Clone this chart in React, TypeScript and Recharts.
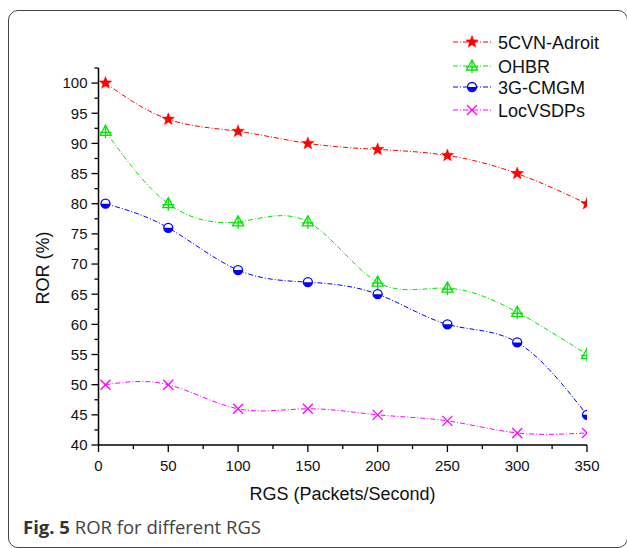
import React from "react";
import { Legend, Line, LineChart, XAxis, YAxis } from "recharts";

// RGS values (packets/second) where each scheme was measured
const rgs = [5, 50, 100, 150, 200, 250, 300, 350];

// ROR (%) per scheme
const adroit = [100, 94, 92, 90, 89, 88, 85, 80];
const ohbr = [92, 80, 77, 77, 67, 66, 62, 55];
const cmgm = [80, 76, 69, 67, 65, 60, 57, 45];
const locvsdps = [50, 50, 46, 46, 45, 44, 42, 42];

const xMajor = [0, 50, 100, 150, 200, 250, 300, 350];
const xMinor = [25, 75, 125, 175, 225, 275, 325];
const yMajor = [40, 45, 50, 55, 60, 65, 70, 75, 80, 85, 90, 95, 100];
const yMinor = [42.5, 47.5, 52.5, 57.5, 62.5, 67.5, 72.5, 77.5, 82.5, 87.5, 92.5, 97.5, 102.5];

const data = rgs.map((x, i) => ({
  x,
  adroit: adroit[i],
  ohbr: ohbr[i],
  cmgm: cmgm[i],
  locvsdps: locvsdps[i],
}));

const FONT = '"Liberation Sans", Arial, sans-serif';
const DASH = "5 2 1 2";

const RED = "#ff0000";
const GREEN = "#00e600";
const BLUE = "#0000ff";
const MAGENTA = "#ff00ff";

// plot box (matches chart margins / axis sizes below)
const PLOT = { x: 98.5, y: 68, w: 488.5, h: 377 };

function starPath(cx: number, cy: number, r: number) {
  const pts: string[] = [];
  for (let k = 0; k < 10; k++) {
    const rad = k % 2 === 0 ? r : r * 0.42;
    const a = -Math.PI / 2 + (k * Math.PI) / 5;
    pts.push(`${cx + rad * Math.cos(a)},${cy + rad * Math.sin(a)}`);
  }
  return `M${pts.join("L")}Z`;
}

const StarMark = ({ cx, cy }: any) => (
  <path d={starPath(cx, cy, 6.5)} fill={RED} stroke={RED} strokeWidth={0.5} />
);

const TriMark = ({ cx, cy }: any) => (
  <g fill="none" stroke={GREEN} strokeWidth={1.3}>
    <path d={`M${cx},${cy - 6}L${cx - 5.5},${cy + 4}L${cx + 5.5},${cy + 4}Z`} />
    <line x1={cx} x2={cx} y1={cy - 6} y2={cy + 7} />
    <line x1={cx - 6} x2={cx + 6} y1={cy + 1} y2={cy + 1} />
  </g>
);

const HalfCircle = ({ cx, cy }: any) => (
  <g>
    <circle cx={cx} cy={cy} r={4.5} fill="#fff" stroke={BLUE} strokeWidth={1.3} />
    <path d={`M${cx - 4.5},${cy}A4.5,4.5 0 0 0 ${cx + 4.5},${cy}Z`} fill={BLUE} />
  </g>
);

const XMark = ({ cx, cy }: any) => (
  <g stroke={MAGENTA} strokeWidth={1.3}>
    <line x1={cx - 5} x2={cx + 5} y1={cy - 5} y2={cy + 5} />
    <line x1={cx - 5} x2={cx + 5} y1={cy + 5} y2={cy - 5} />
  </g>
);

const series = [
  { key: "adroit", name: "5CVN-Adroit", color: RED, Mark: StarMark },
  { key: "ohbr", name: "OHBR", color: GREEN, Mark: TriMark },
  { key: "cmgm", name: "3G-CMGM", color: BLUE, Mark: HalfCircle },
  { key: "locvsdps", name: "LocVSDPs", color: MAGENTA, Mark: XMark },
];

const XTick = ({ x, y, payload }: any) => {
  const major = xMajor.includes(payload.value);
  return (
    <g>
      <line x1={x} x2={x} y1={y} y2={y + (major ? 7 : 4)} stroke="#000" strokeWidth={1.3} />
      {major && (
        <text x={x} y={y + 25.5} textAnchor="middle" fontSize={15} fontFamily={FONT} fill="#111">
          {payload.value}
        </text>
      )}
    </g>
  );
};

const YTick = ({ x, y, payload }: any) => {
  const major = yMajor.includes(payload.value);
  return (
    <g>
      <line x1={x} x2={x - (major ? 7 : 4)} y1={y} y2={y} stroke="#000" strokeWidth={1.3} />
      {major && (
        <text x={x - 11} y={y + 5.3} textAnchor="end" fontSize={15} fontFamily={FONT} fill="#111">
          {payload.value}
        </text>
      )}
    </g>
  );
};

const LegendBox = () => {
  const rows = [14, 38, 59, 82];
  return (
    <svg width={180} height={96}>
      {series.map((s, i) => (
        <g key={s.key}>
          <line x1={8} x2={47} y1={rows[i]} y2={rows[i]} stroke={s.color} strokeDasharray={DASH} />
          <s.Mark cx={27} cy={rows[i]} />
          <text x={53} y={rows[i] + 6.5} fontSize={18} fontFamily={FONT} fill="#111">
            {s.name}
          </text>
        </g>
      ))}
    </svg>
  );
};

export default function App() {
  return (
    <div style={{ position: "absolute", left: 0, top: 0, width: 627, height: 548, overflow: "hidden", background: "#fff" }}>
      <div
        style={{
          position: "absolute",
          left: 8,
          top: 10,
          width: 620,
          height: 538,
          border: "1.5px solid #444",
          borderRadius: 10,
          boxSizing: "border-box",
        }}
      />
      <div style={{ position: "absolute", left: 0, top: 0 }}>
        <LineChart width={627} height={548} data={data} margin={{ top: 68, right: 40, bottom: 0, left: 0.5 }}>
          <XAxis
            dataKey="x"
            type="number"
            domain={[0, 350]}
            allowDataOverflow
            ticks={[...xMajor, ...xMinor].sort((a, b) => a - b)}
            interval={0}
            height={103}
            tickSize={0}
            tickMargin={0}
            tickLine={false}
            axisLine={{ stroke: "#000", strokeWidth: 1.5 }}
            tick={<XTick />}
            label={{
              content: () => (
                <text x={342.5} y={499.5} textAnchor="middle" fontSize={18} fontFamily={FONT} fill="#111">
                  RGS (Packets/Second)
                </text>
              ),
            }}
          />
          <YAxis
            type="number"
            domain={[40, 102.5]}
            allowDataOverflow
            ticks={[...yMajor, ...yMinor].sort((a, b) => a - b)}
            interval={0}
            width={98}
            tickSize={0}
            tickMargin={0}
            tickLine={false}
            axisLine={{ stroke: "#000", strokeWidth: 1.5 }}
            tick={<YTick />}
            label={{
              content: () => (
                <text
                  x={0}
                  y={0}
                  transform="translate(49,268) rotate(-90)"
                  textAnchor="middle"
                  fontSize={18}
                  fontFamily={FONT}
                  fill="#111"
                >
                  ROR (%)
                </text>
              ),
            }}
          />
          <Legend
            layout="vertical"
            align="center"
            verticalAlign="middle"
            wrapperStyle={{ position: "absolute", left: 445, top: 28, width: 180, height: 96 }}
            content={() => <LegendBox />}
          />
          {series.map((s) => (
            <Line
              key={s.key}
              type="natural"
              dataKey={s.key}
              name={s.name}
              stroke={s.color}
              strokeWidth={1}
              strokeDasharray={DASH}
              dot={(p: any) => {
                const id = `clip-${s.key}-${p.index}`;
                return (
                  <g key={id}>
                    <defs>
                      <clipPath id={id}>
                        <rect x={PLOT.x} y={PLOT.y} width={PLOT.w} height={PLOT.h} />
                      </clipPath>
                    </defs>
                    <g clipPath={`url(#${id})`}>
                      <s.Mark cx={p.cx} cy={p.cy} />
                    </g>
                  </g>
                );
              }}
              activeDot={false}
              isAnimationActive={false}
            />
          ))}
        </LineChart>
      </div>
      <div
        style={{
          position: "absolute",
          left: 23,
          top: 518,
          fontFamily: '"Open Sans", sans-serif',
          fontSize: 18.5,
          lineHeight: "18.5px",
          color: "#444",
          whiteSpace: "nowrap",
        }}
      >
        <b style={{ color: "#333" }}>Fig. 5</b> ROR for different RGS
      </div>
    </div>
  );
}
